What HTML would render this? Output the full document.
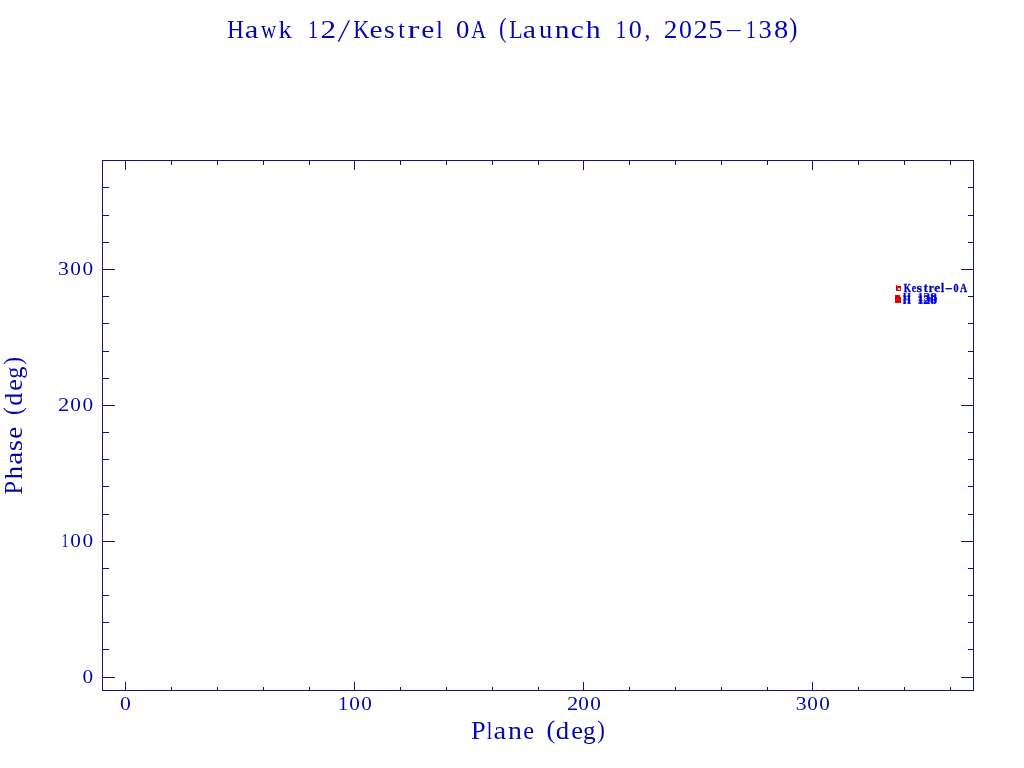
<!DOCTYPE html>
<html><head><meta charset="utf-8"><title>Hawk 12/Kestrel 0A (Launch 10, 2025-138)</title><style>
html,body{margin:0;padding:0;background:#fff;overflow:hidden;}
svg{display:block;will-change:transform;}
.t{font-family:"Liberation Serif",serif;fill:#0606b0;}
.s{font-family:"Liberation Serif",serif;font-weight:bold;}
</style></head><body>
<svg width="1024" height="768" viewBox="0 0 1024 768">
<rect width="1024" height="768" fill="#fff"/>
<path d="M102 160.5H974M102 690.5H974M102.5 160V691M973.5 160V691M125.5 160V170M125.5 682V691M171.5 160V165M171.5 687V691M217.5 160V165M217.5 687V691M263.5 160V165M263.5 687V691M309.5 160V165M309.5 687V691M354.5 160V170M354.5 682V691M400.5 160V165M400.5 687V691M446.5 160V165M446.5 687V691M492.5 160V165M492.5 687V691M538.5 160V165M538.5 687V691M583.5 160V170M583.5 682V691M629.5 160V165M629.5 687V691M675.5 160V165M675.5 687V691M721.5 160V165M721.5 687V691M767.5 160V165M767.5 687V691M812.5 160V170M812.5 682V691M858.5 160V165M858.5 687V691M904.5 160V165M904.5 687V691M950.5 160V165M950.5 687V691M102 677.5H115M961 677.5H974M102 649.5H109M968 649.5H974M102 622.5H109M968 622.5H974M102 595.5H109M968 595.5H974M102 568.5H109M968 568.5H974M102 541.5H115M961 541.5H974M102 514.5H109M968 514.5H974M102 486.5H109M968 486.5H974M102 459.5H109M968 459.5H974M102 432.5H109M968 432.5H974M102 405.5H115M961 405.5H974M102 378.5H109M968 378.5H974M102 351.5H109M968 351.5H974M102 323.5H109M968 323.5H974M102 296.5H109M968 296.5H974M102 269.5H115M961 269.5H974M102 242.5H109M968 242.5H974M102 215.5H109M968 215.5H974M102 187.5H109M968 187.5H974" stroke="#141478" stroke-width="1" fill="none" shape-rendering="crispEdges"/>
<text class="t" font-size="26"><tspan x="227.24" y="38" textLength="16.53" lengthAdjust="spacingAndGlyphs">H</tspan><tspan x="244.82" y="38" textLength="13.60" lengthAdjust="spacingAndGlyphs">a</tspan><tspan x="261.08" y="38" textLength="15.31" lengthAdjust="spacingAndGlyphs">w</tspan><tspan x="278.59" y="38" textLength="13.41" lengthAdjust="spacingAndGlyphs">k</tspan> <tspan x="308.05" y="38" textLength="9.94" lengthAdjust="spacingAndGlyphs">1</tspan><tspan x="320.53" y="38" textLength="15.59" lengthAdjust="spacingAndGlyphs">2</tspan><tspan x="337.10" y="42.3" font-size="34.5" stroke="#fff" stroke-width="0.5" textLength="13.70" lengthAdjust="spacingAndGlyphs">/</tspan><tspan x="353.26" y="38" textLength="16.07" lengthAdjust="spacingAndGlyphs">K</tspan><tspan x="369.55" y="38" textLength="13.07" lengthAdjust="spacingAndGlyphs">e</tspan><tspan x="383.97" y="38" textLength="10.73" lengthAdjust="spacingAndGlyphs">s</tspan><tspan x="398.17" y="38" textLength="6.68" lengthAdjust="spacingAndGlyphs">t</tspan><tspan x="407.48" y="38" textLength="11.93" lengthAdjust="spacingAndGlyphs">r</tspan><tspan x="421.15" y="38" textLength="13.07" lengthAdjust="spacingAndGlyphs">e</tspan><tspan x="436.24" y="38" textLength="6.43" lengthAdjust="spacingAndGlyphs">l</tspan> <tspan x="455.98" y="38" textLength="13.33" lengthAdjust="spacingAndGlyphs">0</tspan><tspan x="471.22" y="38" textLength="13.62" lengthAdjust="spacingAndGlyphs">A</tspan> <tspan x="498.89" y="36.9" font-size="27.6" textLength="7.65" lengthAdjust="spacingAndGlyphs">(</tspan><tspan x="509.37" y="38" textLength="13.34" lengthAdjust="spacingAndGlyphs">L</tspan><tspan x="522.65" y="38" textLength="13.26" lengthAdjust="spacingAndGlyphs">a</tspan><tspan x="539.05" y="38" textLength="13.31" lengthAdjust="spacingAndGlyphs">u</tspan><tspan x="554.72" y="38" textLength="14.72" lengthAdjust="spacingAndGlyphs">n</tspan><tspan x="570.88" y="38" textLength="13.02" lengthAdjust="spacingAndGlyphs">c</tspan><tspan x="585.71" y="38" textLength="14.88" lengthAdjust="spacingAndGlyphs">h</tspan> <tspan x="615.85" y="38" textLength="10.51" lengthAdjust="spacingAndGlyphs">1</tspan><tspan x="628.81" y="38">0</tspan><tspan x="644.60" y="38" textLength="5.88" lengthAdjust="spacingAndGlyphs">,</tspan> <tspan x="663.81" y="38" textLength="13.60" lengthAdjust="spacingAndGlyphs">2</tspan><tspan x="678.92" y="38" textLength="12.86" lengthAdjust="spacingAndGlyphs">0</tspan><tspan x="693.56" y="38" textLength="14.09" lengthAdjust="spacingAndGlyphs">2</tspan><tspan x="708.31" y="38" textLength="14.52" lengthAdjust="spacingAndGlyphs">5</tspan><tspan x="724.80" y="33.8" font-size="14" textLength="17.95" lengthAdjust="spacingAndGlyphs">-</tspan><tspan x="746.05" y="38" textLength="9.94" lengthAdjust="spacingAndGlyphs">1</tspan><tspan x="758.63" y="38" textLength="13.31" lengthAdjust="spacingAndGlyphs">3</tspan><tspan x="774.11" y="38" textLength="14.27" lengthAdjust="spacingAndGlyphs">8</tspan><tspan x="789.21" y="36.9" font-size="27.6" textLength="8.17" lengthAdjust="spacingAndGlyphs">)</tspan></text>
<g class="t" font-size="19.4"><text x="0" y="710"><tspan x="120.07" textLength="10.85" lengthAdjust="spacingAndGlyphs">0</tspan></text><text x="0" y="710"><tspan x="338.13" textLength="10.08" lengthAdjust="spacingAndGlyphs">1</tspan><tspan x="349.29" textLength="10.62" lengthAdjust="spacingAndGlyphs">0</tspan><tspan x="361.29" textLength="10.62" lengthAdjust="spacingAndGlyphs">0</tspan></text><text x="0" y="710"><tspan x="566.91" textLength="11.23" lengthAdjust="spacingAndGlyphs">2</tspan><tspan x="578.29" textLength="10.62" lengthAdjust="spacingAndGlyphs">0</tspan><tspan x="590.29" textLength="10.62" lengthAdjust="spacingAndGlyphs">0</tspan></text><text x="0" y="710"><tspan x="795.86" textLength="10.89" lengthAdjust="spacingAndGlyphs">3</tspan><tspan x="807.29" textLength="10.62" lengthAdjust="spacingAndGlyphs">0</tspan><tspan x="819.29" textLength="10.62" lengthAdjust="spacingAndGlyphs">0</tspan></text><text x="0" y="683"><tspan x="82.49" textLength="10.62" lengthAdjust="spacingAndGlyphs">0</tspan></text><text x="0" y="547"><tspan x="61.55" textLength="7.10" lengthAdjust="spacingAndGlyphs">1</tspan><tspan x="70.29" textLength="10.62" lengthAdjust="spacingAndGlyphs">0</tspan><tspan x="82.49" textLength="10.62" lengthAdjust="spacingAndGlyphs">0</tspan></text><text x="0" y="411"><tspan x="58.11" textLength="11.23" lengthAdjust="spacingAndGlyphs">2</tspan><tspan x="70.29" textLength="10.62" lengthAdjust="spacingAndGlyphs">0</tspan><tspan x="82.49" textLength="10.62" lengthAdjust="spacingAndGlyphs">0</tspan></text><text x="0" y="275"><tspan x="58.06" textLength="10.89" lengthAdjust="spacingAndGlyphs">3</tspan><tspan x="70.29" textLength="10.62" lengthAdjust="spacingAndGlyphs">0</tspan><tspan x="82.49" textLength="10.62" lengthAdjust="spacingAndGlyphs">0</tspan></text></g>
<text class="t" font-size="24.4"><tspan x="471.14" y="739" textLength="14.67" lengthAdjust="spacingAndGlyphs">P</tspan><tspan x="486.70" y="739" textLength="5.49" lengthAdjust="spacingAndGlyphs">l</tspan><tspan x="493.49" y="739" textLength="12.70" lengthAdjust="spacingAndGlyphs">a</tspan><tspan x="507.96" y="739" textLength="13.96" lengthAdjust="spacingAndGlyphs">n</tspan><tspan x="523.25" y="739">e</tspan> <tspan x="546.55" y="738" textLength="8.69" lengthAdjust="spacingAndGlyphs">(</tspan><tspan x="555.73" y="739" textLength="13.40" lengthAdjust="spacingAndGlyphs">d</tspan><tspan x="571.27" y="739" textLength="11.75" lengthAdjust="spacingAndGlyphs">e</tspan><tspan x="582.92" y="739" textLength="12.56" lengthAdjust="spacingAndGlyphs">g</tspan><tspan x="597.36" y="738" textLength="7.65" lengthAdjust="spacingAndGlyphs">)</tspan></text>
<text class="t" transform="rotate(-90)" font-size="24.4"><tspan x="-494.50" y="22">P</tspan><tspan x="-479.16" y="22" textLength="13.31" lengthAdjust="spacingAndGlyphs">h</tspan><tspan x="-464.84" y="22" textLength="13.15" lengthAdjust="spacingAndGlyphs">a</tspan><tspan x="-451.20" y="22" textLength="11.35" lengthAdjust="spacingAndGlyphs">s</tspan><tspan x="-438.84" y="22" textLength="11.87" lengthAdjust="spacingAndGlyphs">e</tspan> <tspan x="-414.93" y="21" textLength="7.78" lengthAdjust="spacingAndGlyphs">(</tspan><tspan x="-405.69" y="22" textLength="13.01" lengthAdjust="spacingAndGlyphs">d</tspan><tspan x="-390.82" y="22" textLength="11.63" lengthAdjust="spacingAndGlyphs">e</tspan><tspan x="-378.85" y="22">g</tspan><tspan x="-364.75" y="21" textLength="7.78" lengthAdjust="spacingAndGlyphs">)</tspan></text>
<path d="M896 286h5v5h-5zM898 288h2v2h-2zM896 285h1v1h-1zM895 295h5v2h1v6h-6z" fill="#e60000" fill-rule="evenodd" shape-rendering="crispEdges"/>
<text class="s" x="0" y="292" font-size="12.2" fill="#0000c0" stroke="#0000c0" stroke-width="0.3"><tspan x="903.74" textLength="7.33" lengthAdjust="spacingAndGlyphs">K</tspan><tspan x="911.77" textLength="4.28" lengthAdjust="spacingAndGlyphs">e</tspan><tspan x="916.57" textLength="5.58" lengthAdjust="spacingAndGlyphs">s</tspan><tspan x="923.81" textLength="3.94" lengthAdjust="spacingAndGlyphs">t</tspan><tspan x="928.79" textLength="5.05" lengthAdjust="spacingAndGlyphs">r</tspan><tspan x="934.35" textLength="5.90" lengthAdjust="spacingAndGlyphs">e</tspan><tspan x="940.88" textLength="3.11" lengthAdjust="spacingAndGlyphs">l</tspan><tspan x="944.95" textLength="7.69" lengthAdjust="spacingAndGlyphs">-</tspan><tspan x="953.61" textLength="5.07" lengthAdjust="spacingAndGlyphs">0</tspan><tspan x="959.90" textLength="7.07" lengthAdjust="spacingAndGlyphs">A</tspan></text>
<g class="s" font-size="12.2" fill="#0000f0">
<text x="0" y="301"><tspan x="902.82" textLength="8.15" lengthAdjust="spacingAndGlyphs">H</tspan> <tspan x="916.91" textLength="6.79" lengthAdjust="spacingAndGlyphs">1</tspan><tspan x="923.21" textLength="7.24" lengthAdjust="spacingAndGlyphs">3</tspan><tspan x="930.03" textLength="7.15" lengthAdjust="spacingAndGlyphs">8</tspan></text>
<text x="0" y="302.5"><tspan x="902.82" textLength="8.15" lengthAdjust="spacingAndGlyphs">H</tspan> <tspan x="916.91" textLength="6.79" lengthAdjust="spacingAndGlyphs">1</tspan><tspan x="923.21" textLength="7.24" lengthAdjust="spacingAndGlyphs">3</tspan><tspan x="929.94" textLength="7.31" lengthAdjust="spacingAndGlyphs">0</tspan></text>
<text x="0" y="304"><tspan x="902.82" textLength="8.15" lengthAdjust="spacingAndGlyphs">H</tspan> <tspan x="916.91" textLength="6.79" lengthAdjust="spacingAndGlyphs">1</tspan><tspan x="923.12" textLength="7.47" lengthAdjust="spacingAndGlyphs">2</tspan><tspan x="930.03" textLength="7.15" lengthAdjust="spacingAndGlyphs">8</tspan></text>
</g>
</svg>
</body></html>
